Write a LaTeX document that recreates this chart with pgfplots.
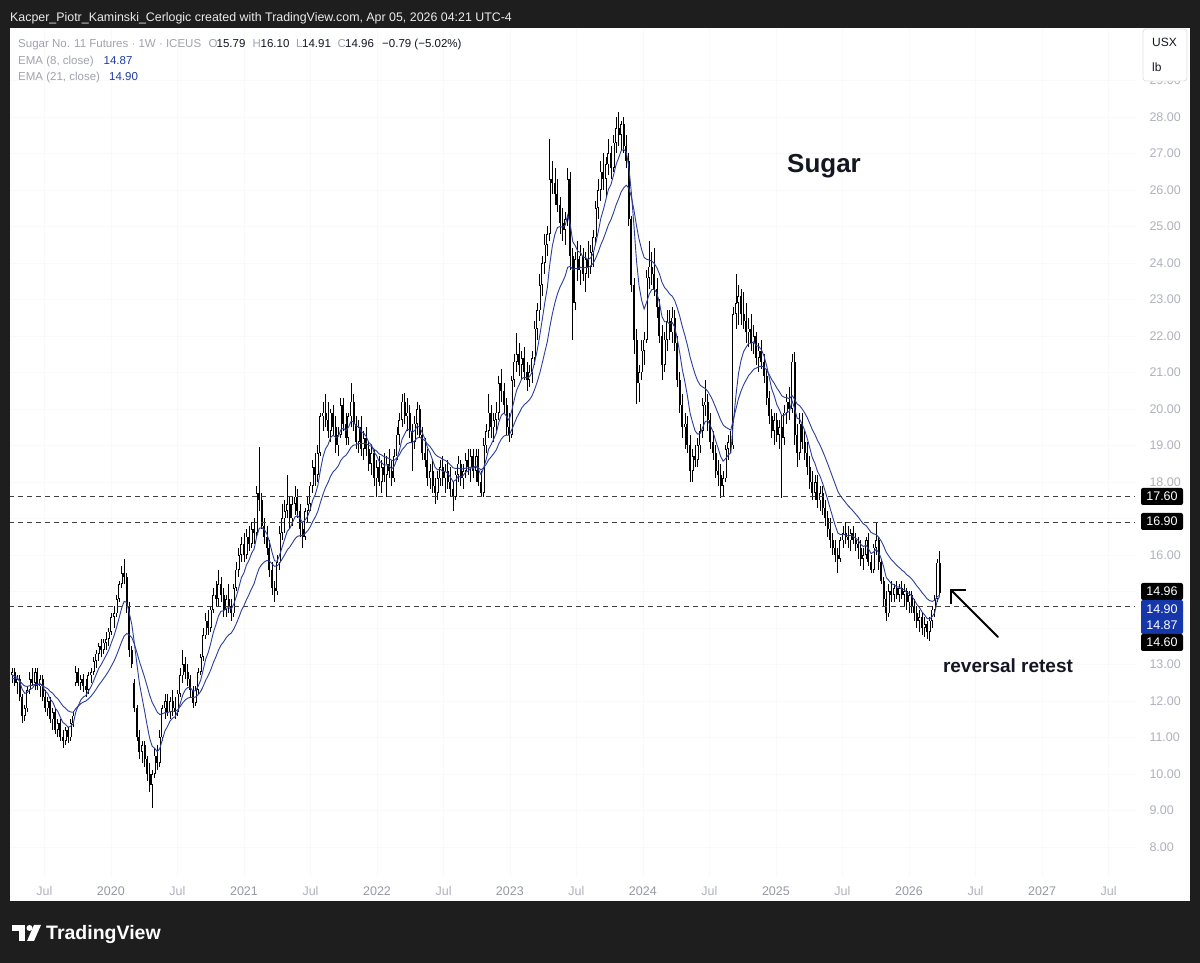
\documentclass[border=0pt]{standalone}
\usepackage{fontspec}
\setmainfont{Liberation Sans}
\usepackage{pgfplots}
\usepackage{pgfplotstable}
\pgfplotsset{compat=1.18}
\definecolor{bgdark}{RGB}{30,30,30}
\definecolor{lgray}{RGB}{160,163,172}
\definecolor{axgray}{RGB}{175,178,187}
\definecolor{yrgray}{RGB}{150,153,161}
\definecolor{emablue}{RGB}{42,62,155}
\definecolor{valblue}{RGB}{30,60,165}
\definecolor{boxblue}{RGB}{22,55,170}
\definecolor{txtdark}{RGB}{19,23,34}

\pgfplotstableread{
w o h l c e f
0 12.70 12.90 12.50 12.80 12.72 12.62
1 12.80 12.90 12.40 12.50 12.67 12.61
2 12.50 12.70 12.20 12.60 12.65 12.61
3 12.60 12.70 12.00 12.10 12.53 12.56
4 12.10 12.20 11.40 11.60 12.32 12.47
5 11.60 11.90 11.45 11.80 12.21 12.41
6 11.80 12.40 11.70 12.30 12.23 12.40
7 12.30 12.80 12.20 12.60 12.31 12.42
8 12.60 12.90 12.40 12.50 12.35 12.43
9 12.50 12.90 12.30 12.80 12.45 12.46
10 12.80 12.90 12.30 12.40 12.44 12.45
11 12.40 12.70 12.10 12.60 12.48 12.46
12 12.60 12.70 12.00 12.10 12.40 12.43
13 12.10 12.30 11.70 11.80 12.27 12.37
14 11.80 12.10 11.60 12.00 12.21 12.34
15 12.00 12.10 11.40 11.50 12.05 12.26
16 11.50 11.80 11.20 11.70 11.97 12.21
17 11.70 11.80 11.10 11.20 11.80 12.12
18 11.20 11.50 11.00 11.40 11.71 12.06
19 11.40 11.50 10.90 11.00 11.55 11.96
20 11.00 11.20 10.70 10.90 11.41 11.86
21 10.90 11.30 10.80 11.20 11.36 11.80
22 11.20 11.30 10.85 11.00 11.28 11.73
23 11.00 11.50 10.90 11.40 11.31 11.70
24 11.40 11.70 11.30 11.60 11.37 11.69
25 12.50 12.95 12.40 12.80 11.69 11.79
26 12.80 12.90 12.40 12.50 11.87 11.86
27 12.50 12.70 12.30 12.60 12.03 11.93
28 12.60 12.75 12.25 12.40 12.11 11.97
29 12.40 12.60 12.10 12.30 12.15 12.00
30 12.30 12.80 12.20 12.70 12.27 12.06
31 12.70 12.90 12.50 12.80 12.39 12.13
32 12.80 13.20 12.70 13.10 12.55 12.22
33 13.10 13.40 12.90 13.30 12.72 12.32
34 13.30 13.60 13.10 13.50 12.89 12.43
35 13.50 13.70 13.20 13.40 13.00 12.52
36 13.40 13.70 13.30 13.60 13.13 12.62
37 13.60 13.90 13.40 13.70 13.26 12.72
38 13.70 14.00 13.50 13.90 13.40 12.83
39 13.90 14.40 13.80 14.30 13.60 12.96
40 14.30 14.60 14.00 14.40 13.78 13.09
41 14.40 14.90 14.30 14.80 14.01 13.25
42 14.80 15.30 14.70 15.20 14.27 13.43
43 15.20 15.70 15.10 15.50 14.54 13.62
44 15.50 15.90 15.20 15.40 14.73 13.78
45 15.40 15.50 14.40 14.60 14.70 13.85
46 14.60 14.70 13.20 13.40 14.41 13.81
47 13.40 13.50 12.90 13.00 14.10 13.74
48 12.50 12.60 11.70 11.80 13.59 13.56
49 11.80 11.90 10.90 11.00 13.01 13.33
50 11.00 11.20 10.40 10.60 12.48 13.08
51 10.60 10.90 10.30 10.80 12.10 12.87
52 10.80 10.90 10.20 10.40 11.73 12.65
53 10.40 10.50 9.80 10.00 11.34 12.41
54 10.00 10.30 9.50 9.70 10.98 12.16
55 9.70 10.10 9.07 10.00 10.76 11.96
56 10.00 10.70 9.90 10.50 10.70 11.83
57 10.50 10.80 10.10 10.30 10.61 11.69
58 10.30 11.20 10.20 11.00 10.70 11.63
59 11.00 11.90 10.90 11.80 10.94 11.65
60 11.80 12.20 11.50 12.00 11.18 11.68
61 12.00 12.20 11.60 11.70 11.30 11.68
62 11.70 12.10 11.50 12.00 11.45 11.71
63 12.00 12.30 11.60 11.80 11.53 11.72
64 11.80 12.10 11.50 11.70 11.57 11.72
65 11.70 12.30 11.60 12.20 11.71 11.76
66 12.20 12.90 12.10 12.70 11.93 11.85
67 12.70 13.40 12.50 13.00 12.17 11.95
68 13.00 13.20 12.60 12.80 12.31 12.03
69 12.80 13.00 12.40 12.60 12.37 12.08
70 12.60 12.70 12.10 12.30 12.36 12.10
71 12.30 12.40 11.80 11.95 12.27 12.09
72 11.95 12.40 11.85 12.30 12.28 12.11
73 12.30 12.90 12.20 12.80 12.40 12.17
74 12.80 13.30 12.70 13.20 12.57 12.26
75 13.20 14.00 13.10 13.80 12.85 12.40
76 13.80 14.40 13.70 14.20 13.15 12.57
77 14.20 14.50 13.80 14.00 13.33 12.70
78 14.00 14.60 13.90 14.50 13.59 12.86
79 14.50 15.10 14.40 14.90 13.88 13.05
80 14.90 15.30 14.60 14.80 14.09 13.21
81 14.80 15.60 14.60 15.20 14.33 13.39
82 15.20 15.40 14.70 14.90 14.46 13.53
83 14.90 15.10 14.30 14.50 14.47 13.62
84 14.50 14.90 14.30 14.80 14.54 13.73
85 14.80 15.20 14.40 14.60 14.56 13.81
86 14.60 14.80 14.20 14.40 14.52 13.86
87 14.40 15.20 14.30 15.10 14.65 13.97
88 15.10 15.80 15.00 15.60 14.86 14.12
89 15.60 16.20 15.40 16.00 15.11 14.29
90 16.00 16.50 15.80 16.30 15.38 14.48
91 16.30 16.60 15.80 16.00 15.51 14.61
92 16.00 16.70 15.90 16.50 15.73 14.78
93 16.50 16.80 16.10 16.30 15.86 14.92
94 16.30 16.90 16.20 16.70 16.05 15.08
95 16.70 17.00 16.30 16.60 16.17 15.22
96 16.60 17.90 16.50 17.70 16.51 15.45
97 17.70 18.95 17.20 17.50 16.73 15.64
98 17.50 17.70 16.70 16.80 16.75 15.74
99 16.80 17.00 16.30 16.50 16.69 15.81
100 16.50 16.80 16.00 16.20 16.58 15.85
101 16.20 16.40 15.40 15.60 16.36 15.83
102 15.60 15.80 14.90 15.10 16.08 15.76
103 15.10 15.30 14.70 15.00 15.84 15.69
104 15.00 16.00 14.90 15.80 15.83 15.70
105 15.80 16.80 15.60 16.60 16.00 15.78
106 16.60 17.40 16.40 17.00 16.22 15.89
107 17.00 17.50 16.60 17.20 16.44 16.01
108 17.20 18.20 17.00 17.40 16.65 16.14
109 17.40 17.60 16.70 17.00 16.73 16.22
110 17.00 17.60 16.80 17.40 16.88 16.33
111 17.40 17.90 17.10 17.60 17.04 16.44
112 17.60 17.80 17.00 17.20 17.08 16.51
113 17.20 17.40 16.50 16.70 17.00 16.53
114 16.70 16.90 16.20 16.50 16.89 16.53
115 16.50 17.30 16.40 17.20 16.96 16.59
116 17.20 17.60 16.90 17.40 17.06 16.66
117 17.40 18.00 17.20 17.90 17.25 16.77
118 17.90 18.60 17.70 18.40 17.51 16.92
119 18.40 18.80 17.90 18.20 17.66 17.04
120 18.20 19.00 18.00 18.80 17.91 17.20
121 18.80 19.90 18.70 19.80 18.33 17.44
122 19.80 20.20 19.40 19.90 18.68 17.66
123 19.90 20.40 19.50 19.70 18.91 17.85
124 19.70 20.20 19.20 19.40 19.02 17.99
125 19.40 20.00 19.10 19.90 19.22 18.16
126 19.90 20.10 19.30 19.50 19.28 18.28
127 19.50 19.80 18.80 19.00 19.22 18.35
128 19.00 19.50 18.70 19.30 19.24 18.44
129 19.30 20.30 19.20 20.10 19.43 18.59
130 20.10 20.30 19.40 19.60 19.47 18.68
131 19.60 19.90 19.00 19.20 19.41 18.73
132 19.20 19.90 19.00 19.80 19.50 18.83
133 19.80 20.70 19.50 20.20 19.66 18.95
134 20.20 20.40 19.40 19.60 19.65 19.01
135 19.60 19.80 18.90 19.10 19.53 19.02
136 19.10 19.70 18.80 19.50 19.52 19.06
137 19.50 19.80 18.70 18.90 19.38 19.05
138 18.90 19.40 18.60 19.20 19.34 19.06
139 19.20 19.50 18.70 18.90 19.24 19.05
140 18.90 19.10 18.30 18.50 19.08 19.00
141 18.50 19.00 18.20 18.80 19.02 18.98
142 18.80 18.90 17.90 18.10 18.82 18.90
143 18.10 18.60 17.60 18.40 18.73 18.85
144 18.40 18.70 17.90 18.00 18.57 18.77
145 18.00 18.60 17.70 18.40 18.53 18.74
146 18.40 18.80 18.00 18.20 18.46 18.69
147 18.20 18.70 17.60 18.50 18.47 18.67
148 18.50 18.90 18.10 18.30 18.43 18.64
149 18.30 18.60 17.90 18.10 18.36 18.59
150 18.10 18.90 18.00 18.70 18.44 18.60
151 18.70 19.50 18.60 19.30 18.63 18.66
152 19.30 19.90 19.00 19.70 18.87 18.75
153 19.70 20.40 19.50 20.20 19.17 18.88
154 20.20 20.45 19.60 19.80 19.31 18.96
155 19.80 20.30 19.40 19.90 19.44 19.05
156 19.90 20.10 19.20 19.40 19.43 19.08
157 19.40 19.60 18.30 19.10 19.36 19.08
158 19.10 19.80 18.90 19.60 19.41 19.13
159 19.60 20.20 19.30 20.00 19.54 19.21
160 20.00 20.10 19.20 19.30 19.49 19.22
161 19.30 19.50 18.60 18.80 19.34 19.18
162 18.80 19.20 18.40 18.60 19.18 19.13
163 18.60 18.90 17.90 18.10 18.94 19.04
164 18.10 18.50 17.80 18.30 18.80 18.97
165 18.30 18.60 17.70 17.90 18.60 18.87
166 17.90 18.10 17.40 17.70 18.40 18.76
167 17.70 18.30 17.50 18.10 18.33 18.70
168 18.10 18.60 17.90 18.40 18.35 18.67
169 18.40 18.70 17.90 18.10 18.29 18.62
170 18.10 18.50 17.70 18.30 18.29 18.59
171 18.30 18.60 17.80 18.00 18.23 18.54
172 18.00 18.40 17.60 17.80 18.13 18.47
173 17.80 18.00 17.20 17.60 18.01 18.39
174 17.60 18.30 17.50 18.20 18.05 18.37
175 18.20 18.70 18.00 18.50 18.15 18.38
176 18.50 18.60 17.90 18.10 18.14 18.36
177 18.10 18.50 17.80 18.30 18.18 18.36
178 18.30 18.80 18.10 18.60 18.27 18.38
179 18.60 18.90 18.20 18.40 18.30 18.38
180 18.40 18.90 18.00 18.70 18.39 18.41
181 18.70 18.90 18.10 18.30 18.37 18.40
182 18.30 18.90 18.00 18.70 18.44 18.43
183 18.70 18.90 17.90 18.00 18.34 18.39
184 18.00 18.30 17.60 17.70 18.20 18.33
185 17.70 19.20 17.60 19.00 18.38 18.39
186 19.00 19.60 18.80 19.40 18.61 18.48
187 19.40 20.40 19.20 19.90 18.90 18.61
188 19.90 20.10 19.20 19.50 19.03 18.69
189 19.50 19.90 19.10 19.70 19.18 18.78
190 19.70 20.20 19.40 19.90 19.34 18.88
191 19.90 20.90 19.70 20.70 19.64 19.05
192 20.70 21.10 20.20 20.50 19.83 19.18
193 20.50 20.70 19.90 20.10 19.89 19.26
194 20.10 20.30 19.30 19.50 19.80 19.28
195 19.50 19.90 19.10 19.30 19.69 19.28
196 19.30 20.90 19.20 20.80 19.94 19.42
197 20.80 21.50 20.60 21.30 20.24 19.59
198 21.30 22.07 21.00 21.50 20.52 19.76
199 21.50 21.80 20.90 21.20 20.67 19.89
200 21.20 21.60 20.80 21.40 20.83 20.03
201 21.40 21.70 20.80 21.00 20.87 20.12
202 21.00 21.30 20.50 20.80 20.85 20.18
203 20.80 21.20 20.60 21.00 20.88 20.25
204 21.00 21.60 20.70 21.40 21.00 20.36
205 21.40 22.40 21.20 22.20 21.27 20.53
206 22.20 22.90 21.90 22.70 21.59 20.73
207 22.70 23.70 22.40 23.40 21.99 20.97
208 23.40 24.20 23.10 24.00 22.44 21.25
209 24.00 24.80 23.70 24.50 22.90 21.55
210 24.50 25.00 24.20 24.80 23.32 21.84
211 24.80 27.40 24.60 26.30 23.98 22.25
212 26.30 26.80 25.90 26.20 24.47 22.61
213 26.20 26.60 25.60 25.90 24.79 22.91
214 25.90 26.30 25.40 25.60 24.97 23.16
215 25.60 25.80 24.80 25.10 25.00 23.34
216 25.10 25.50 24.60 24.90 24.98 23.48
217 24.90 25.40 24.50 25.20 25.03 23.64
218 25.20 26.60 25.00 26.30 25.31 23.88
219 26.30 26.50 23.80 24.20 25.06 23.91
220 24.20 24.40 21.90 22.90 24.58 23.82
221 22.90 24.30 22.70 24.10 24.47 23.85
222 24.10 24.60 23.50 23.80 24.32 23.85
223 23.80 24.50 23.40 24.20 24.29 23.88
224 24.20 24.40 23.50 23.70 24.16 23.86
225 23.70 24.30 23.20 24.10 24.15 23.88
226 24.10 24.60 23.60 23.90 24.09 23.88
227 23.90 24.50 23.70 24.30 24.14 23.92
228 24.30 24.90 23.90 24.70 24.26 23.99
229 24.70 25.70 24.50 25.50 24.54 24.13
230 25.50 26.30 25.20 26.00 24.86 24.30
231 26.00 26.80 25.70 26.50 25.22 24.50
232 26.50 27.00 26.00 26.30 25.46 24.66
233 26.30 26.90 25.80 26.70 25.74 24.85
234 26.70 27.40 26.40 27.00 26.02 25.05
235 27.00 27.20 26.30 26.60 26.15 25.19
236 26.60 27.50 26.50 27.30 26.41 25.38
237 27.30 28.00 27.00 27.70 26.70 25.59
238 27.70 28.14 27.20 27.50 26.88 25.76
239 27.50 27.90 27.10 27.80 27.08 25.95
240 27.80 28.00 27.00 27.20 27.11 26.06
241 27.20 27.50 26.60 26.80 27.04 26.13
242 26.80 27.00 25.00 25.20 26.63 26.05
243 25.20 25.30 23.20 23.40 25.91 25.81
244 23.40 23.60 21.50 21.90 25.02 25.45
245 21.90 22.20 20.15 20.70 24.06 25.02
246 20.70 21.20 20.20 21.00 23.38 24.65
247 21.00 21.90 20.80 21.60 22.98 24.37
248 21.60 22.10 21.20 21.90 22.74 24.15
249 21.90 23.80 21.80 23.60 22.93 24.10
250 23.60 24.60 23.30 23.90 23.15 24.08
251 23.90 24.30 23.40 23.70 23.27 24.05
252 23.70 24.40 23.10 23.30 23.28 23.98
253 23.30 23.60 22.50 22.80 23.17 23.87
254 22.80 23.00 21.80 22.00 22.91 23.70
255 22.00 22.30 20.80 21.20 22.53 23.47
256 21.20 22.10 21.00 21.90 22.39 23.33
257 21.90 22.70 21.60 22.40 22.39 23.25
258 22.40 22.70 21.90 22.10 22.33 23.15
259 22.10 22.80 21.80 22.50 22.37 23.09
260 22.50 22.70 21.60 21.80 22.24 22.97
261 21.80 22.00 20.60 20.80 21.92 22.77
262 20.80 21.00 19.90 20.10 21.52 22.53
263 20.10 20.40 19.20 19.50 21.07 22.25
264 19.50 19.90 18.90 19.60 20.74 22.01
265 19.60 19.80 18.80 19.00 20.35 21.74
266 19.00 19.30 18.00 18.30 19.89 21.43
267 18.30 18.90 18.00 18.70 19.63 21.18
268 18.70 19.00 18.40 18.60 19.40 20.95
269 18.60 19.20 18.40 19.00 19.31 20.77
270 19.00 19.60 18.80 19.40 19.33 20.65
271 19.40 20.30 19.20 20.10 19.50 20.60
272 20.10 20.80 19.80 20.20 19.66 20.56
273 20.20 20.40 19.40 19.70 19.67 20.48
274 19.70 19.90 18.90 19.10 19.54 20.36
275 19.10 19.40 18.60 18.80 19.38 20.22
276 18.80 19.00 18.10 18.30 19.14 20.05
277 18.30 18.60 17.90 18.20 18.93 19.88
278 18.20 18.50 17.57 17.90 18.70 19.70
279 17.90 18.30 17.60 18.10 18.57 19.56
280 18.10 19.00 18.00 18.90 18.64 19.50
281 18.90 19.30 18.60 19.10 18.74 19.46
282 19.10 19.40 18.80 19.00 18.80 19.42
283 19.00 22.80 18.90 22.60 19.64 19.71
284 22.60 23.70 22.20 22.90 20.36 20.00
285 22.90 23.40 22.30 23.10 20.97 20.28
286 23.10 23.30 22.30 22.60 21.33 20.49
287 22.60 23.20 22.20 22.40 21.57 20.66
288 22.40 22.90 21.80 22.10 21.69 20.79
289 22.10 22.50 21.70 22.20 21.80 20.92
290 22.20 22.60 21.60 21.80 21.80 21.00
291 21.80 22.30 21.50 22.00 21.84 21.09
292 22.00 22.10 21.20 21.40 21.74 21.12
293 21.40 21.80 21.00 21.60 21.71 21.16
294 21.60 21.90 21.10 21.30 21.62 21.17
295 21.30 21.50 20.70 20.90 21.46 21.15
296 20.90 21.10 20.10 20.30 21.20 21.07
297 20.30 20.50 19.60 19.80 20.89 20.95
298 19.80 20.00 19.20 19.40 20.56 20.81
299 19.40 19.90 19.00 19.70 20.37 20.71
300 19.70 19.90 19.10 19.30 20.13 20.58
301 19.30 19.70 18.90 19.50 19.99 20.48
302 19.50 19.80 17.57 19.20 19.81 20.36
303 19.20 20.10 19.00 19.90 19.83 20.32
304 19.90 20.40 19.60 20.20 19.91 20.31
305 20.20 20.60 19.70 20.00 19.93 20.28
306 20.00 21.50 19.90 21.30 20.23 20.37
307 21.30 21.55 19.00 19.30 20.02 20.27
308 19.30 19.60 18.40 18.80 19.75 20.14
309 18.80 19.90 18.60 19.60 19.72 20.09
310 19.60 19.90 18.90 19.10 19.58 20.00
311 19.10 19.40 18.60 18.80 19.41 19.89
312 18.80 19.10 18.20 18.40 19.19 19.76
313 18.40 18.70 17.80 18.00 18.93 19.60
314 18.00 18.30 17.50 17.70 18.66 19.43
315 17.70 18.20 17.50 18.00 18.51 19.30
316 18.00 18.20 17.30 17.50 18.29 19.14
317 17.50 17.90 17.20 17.70 18.16 19.01
318 17.70 17.90 17.10 17.30 17.97 18.85
319 17.30 17.50 16.80 17.00 17.75 18.68
320 17.00 17.20 16.50 16.70 17.52 18.50
321 16.70 17.00 16.20 16.40 17.27 18.31
322 16.40 16.60 16.00 16.20 17.03 18.12
323 16.20 16.40 15.80 16.00 16.80 17.93
324 16.00 16.20 15.50 15.90 16.60 17.74
325 15.90 16.50 15.80 16.40 16.56 17.62
326 16.40 16.80 16.20 16.60 16.57 17.53
327 16.60 16.90 16.30 16.50 16.55 17.44
328 16.50 16.80 16.20 16.40 16.52 17.35
329 16.40 16.70 16.10 16.60 16.54 17.28
330 16.60 16.80 16.30 16.40 16.51 17.20
331 16.40 16.60 16.10 16.30 16.46 17.12
332 16.30 16.50 15.90 16.20 16.40 17.04
333 16.20 16.40 15.70 15.90 16.29 16.94
334 15.90 16.20 15.60 16.00 16.23 16.85
335 16.00 16.50 15.90 16.40 16.27 16.81
336 16.40 16.60 15.70 15.80 16.17 16.72
337 15.80 16.00 15.50 15.60 16.04 16.62
338 15.60 16.30 15.50 16.20 16.08 16.58
339 16.20 16.90 16.00 16.40 16.15 16.56
340 16.40 16.50 15.60 15.80 16.07 16.49
341 15.80 15.90 15.20 15.30 15.90 16.38
342 15.30 15.40 14.60 14.80 15.66 16.24
343 14.80 15.00 14.20 14.40 15.38 16.07
344 14.40 15.20 14.30 15.00 15.30 15.97
345 15.00 15.30 14.70 14.90 15.21 15.87
346 14.90 15.20 14.70 15.10 15.19 15.80
347 15.10 15.30 14.80 14.90 15.13 15.72
348 14.90 15.20 14.70 15.10 15.12 15.66
349 15.10 15.30 14.80 14.90 15.07 15.59
350 14.90 15.20 14.60 15.00 15.05 15.54
351 15.00 15.10 14.50 14.70 14.97 15.46
352 14.70 15.00 14.40 14.90 14.95 15.41
353 14.90 15.00 14.40 14.60 14.87 15.34
354 14.60 14.80 14.20 14.40 14.77 15.25
355 14.40 14.60 14.00 14.20 14.64 15.15
356 14.20 14.50 13.90 14.30 14.56 15.07
357 14.30 14.40 13.80 14.00 14.44 14.97
358 14.00 14.30 13.75 14.10 14.36 14.89
359 14.10 14.20 13.70 13.90 14.26 14.80
360 13.90 14.30 13.65 14.20 14.25 14.75
361 14.20 14.60 14.00 14.50 14.31 14.73
362 14.50 14.90 14.30 14.80 14.42 14.76
363 14.80 15.90 14.70 15.79 14.76 14.86
364 15.79 16.10 14.91 14.96 14.87 14.90
}\sugar

\pgfplotstableread{
x y
-1 17.60
441 17.60
}\lineA
\pgfplotstableread{
x y
-1 16.90
441 16.90
}\lineB
\pgfplotstableread{
x y
-1 14.60
441 14.60
}\lineC

\begin{document}
\begin{tikzpicture}
\begin{scope}[x=1pt,y=-1pt,shift={(0pt,963pt)}]
  \fill[bgdark] (0,0) rectangle (1200,963);
  \fill[white] (10,28) rectangle (1190,901);
\end{scope}

\begin{axis}[
  at={(10pt,86pt)}, anchor=south west,
  scale only axis, width=1125pt, height=849pt,
  xmin=-0.785, xmax=440.56, ymin=7.178, ymax=30.438,
  axis line style={draw=none},
  major tick length=0pt,
  tick style={draw=none},
  grid=major,
  major grid style={draw=black!2.5, line width=0.6pt},
  xtick={12.7,38.8,64.9,91.0,117.1,143.2,169.3,195.3,221.4,247.5,273.6,299.7,325.8,351.9,378.0,404.1,430.2},
  xticklabels={Jul,\textcolor{yrgray}{2020},Jul,\textcolor{yrgray}{2021},Jul,\textcolor{yrgray}{2022},Jul,\textcolor{yrgray}{2023},Jul,\textcolor{yrgray}{2024},Jul,\textcolor{yrgray}{2025},Jul,\textcolor{yrgray}{2026},Jul,\textcolor{yrgray}{2027},Jul},
  xticklabel style={anchor=center, yshift=-14pt, text=axgray, font=\fontsize{12.5}{13}\selectfont},
  ytick={8,9,10,11,12,13,14,15,16,17,18,19,20,21,22,23,24,25,26,27,28,29},
  yticklabels={8.00,9.00,10.00,11.00,12.00,13.00,,,16.00,,18.00,19.00,20.00,21.00,22.00,23.00,24.00,25.00,26.00,27.00,28.00,29.00},
  yticklabel pos=right,
  yticklabel style={anchor=west, xshift=11pt, text=axgray, font=\fontsize{12.5}{13}\selectfont},
]
% wicks
\addplot[draw=none, mark=none, forget plot,
  error bars/.cd, y dir=both, y explicit, error mark=none,
  error bar style={draw=black, line width=0.8pt, line cap=butt}]
  table[x=w, y expr={(\thisrow{h}+\thisrow{l})/2}, y error expr={(\thisrow{h}-\thisrow{l})/2}] {\sugar};
% down bodies
\addplot[draw=none, mark=none, forget plot,
  restrict expr to domain={\thisrow{o}-\thisrow{c}}{0:100},
  error bars/.cd, y dir=both, y explicit, error mark=none,
  error bar style={draw=black, line width=2pt, line cap=butt}]
  table[x=w, y expr={(\thisrow{o}+\thisrow{c})/2}, y error expr={max(abs(\thisrow{o}-\thisrow{c})/2,0.02)}] {\sugar};
% up bodies (outline)
\addplot[draw=none, mark=none, forget plot,
  restrict expr to domain={\thisrow{c}-\thisrow{o}}{0.0001:100},
  error bars/.cd, y dir=both, y explicit, error mark=none,
  error bar style={draw=black, line width=2pt, line cap=butt}]
  table[x=w, y expr={(\thisrow{o}+\thisrow{c})/2}, y error expr={abs(\thisrow{o}-\thisrow{c})/2}] {\sugar};
% up bodies (hollow)
\addplot[draw=none, mark=none, forget plot,
  restrict expr to domain={\thisrow{c}-\thisrow{o}}{0.0001:100},
  error bars/.cd, y dir=both, y explicit, error mark=none,
  error bar style={draw=white, line width=0.8pt, line cap=butt}]
  table[x=w, y expr={(\thisrow{o}+\thisrow{c})/2}, y error expr={max(abs(\thisrow{o}-\thisrow{c})/2-0.02,0)}] {\sugar};
% EMAs
\addplot[emablue, line width=0.9pt, mark=none] table[x=w, y=e] {\sugar};
\addplot[emablue, line width=0.9pt, mark=none] table[x=w, y=f] {\sugar};
% horizontal levels
\addplot[black!75, line width=1pt, dash pattern=on 5pt off 4pt, mark=none] table[x=x,y=y] {\lineA};
\addplot[black!75, line width=1pt, dash pattern=on 5pt off 4pt, mark=none] table[x=x,y=y] {\lineB};
\addplot[black!75, line width=1pt, dash pattern=on 5pt off 4pt, mark=none] table[x=x,y=y] {\lineC};
\end{axis}

\begin{scope}[x=1pt,y=-1pt,shift={(0pt,963pt)}]
  % header
  \node[anchor=base west, inner sep=0pt, text=white!92!black, font=\fontsize{12.4}{14}\selectfont] at (10,21.5)
    {Kacper\_Piotr\_Kaminski\_Cerlogic created with TradingView.com, Apr 05, 2026 04:21 UTC-4};
  % legend
  \begin{scope}[every node/.style={anchor=base west, inner sep=0pt, font=\fontsize{11.5}{13}\selectfont}]
    \node[text=lgray] at (18,47.5) {Sugar No. 11 Futures · 1W · ICEUS};
    \node[text=lgray] at (208.5,47.5) {O};
    \node[text=txtdark] at (216.5,47.5) {15.79};
    \node[text=lgray] at (252.5,47.5) {H};
    \node[text=txtdark] at (260.5,47.5) {16.10};
    \node[text=lgray] at (296,47.5) {L};
    \node[text=txtdark] at (302,47.5) {14.91};
    \node[text=lgray] at (337.5,47.5) {C};
    \node[text=txtdark] at (345,47.5) {14.96};
    \node[text=txtdark] at (382,47.5) {−0.79 (−5.02\%)};
    \node[text=lgray] at (18,65) {EMA (8, close)};
    \node[text=valblue] at (103.5,65) {14.87};
    \node[text=lgray] at (18,81) {EMA (21, close)};
    \node[text=valblue] at (109,81) {14.90};
  \end{scope}
  % currency box
  \draw[draw=black!12, fill=white, rounded corners=3pt, line width=0.8pt] (1143,29) rectangle (1187,81);
  \node[anchor=base west, inner sep=0pt, text=txtdark, font=\fontsize{12}{13}\selectfont] at (1152,47) {USX};
  \node[anchor=base west, inner sep=0pt, text=txtdark, font=\fontsize{12}{13}\selectfont] at (1152,72) {lb};
  % value boxes
  \begin{scope}[every node/.style={inner sep=0pt, text=white, font=\fontsize{12.5}{13}\selectfont}]
    \fill[black, rounded corners=2pt] (1141,488) rectangle (1183,505);
    \node at (1162,496.5) {17.60};
    \fill[black, rounded corners=2pt] (1141,513) rectangle (1183,530);
    \node at (1162,521.5) {16.90};
    \fill[black, rounded corners=2pt] (1141,583) rectangle (1183,600);
    \node at (1162,591.5) {14.96};
    \fill[boxblue, rounded corners=2pt] (1141,600) rectangle (1183,634);
    \node at (1162,609) {14.90};
    \node at (1162,625) {14.87};
    \fill[black, rounded corners=2pt] (1141,634) rectangle (1183,651);
    \node at (1162,642.5) {14.60};
  \end{scope}
  % annotations
  \node[text=txtdark, font=\bfseries\fontsize{26}{28}\selectfont] at (824,166) {Sugar};
  \node[text=txtdark, font=\bfseries\fontsize{19}{21}\selectfont] at (1008,666) {reversal retest};
  \draw[line width=2pt, line cap=round] (998,637) -- (952,591);
  \draw[line width=2pt, line join=miter] (966,590) -- (951,590) -- (951,604);
  % footer logo
  \fill[white] (12,925) rectangle (25,931);
  \fill[white] (19,925) rectangle (25,941);
  \fill[white] (29.5,928) circle (3);
  \fill[white] (34,925) -- (41,925) -- (34,941) -- (27,941) -- cycle;
  \node[anchor=base west, inner sep=0pt, text=white, font=\bfseries\fontsize{19.5}{21}\selectfont] at (46,940) {TradingView};
\end{scope}
\pgfresetboundingbox
\path[use as bounding box] (0,0) rectangle (1200pt,963pt);
\end{tikzpicture}
\end{document}
